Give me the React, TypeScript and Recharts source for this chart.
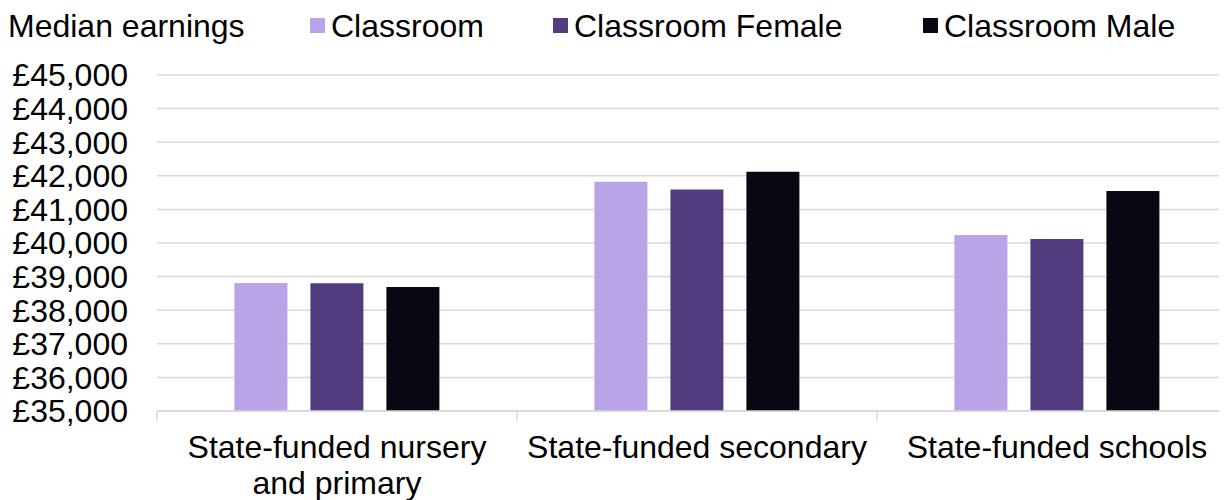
import React from 'react';
import { BarChart, Bar, XAxis, YAxis, CartesianGrid } from 'recharts';

const categories = ['State-funded nursery\nand primary', 'State-funded secondary', 'State-funded schools'];
const classroom = [38810, 41820, 40240];
const classroomFemale = [38800, 41590, 40120];
const classroomMale = [38690, 42120, 41550];
const yTicks = [35000, 36000, 37000, 38000, 39000, 40000, 41000, 42000, 43000, 44000, 45000];
const seriesNames = ['Classroom', 'Classroom Female', 'Classroom Male'];
const seriesColors = ['#BAA4E8', '#523D80', '#0A0712'];
const legendTitle = 'Median earnings';

const data = categories.map((c, i) => ({
  name: c,
  classroom: classroom[i],
  female: classroomFemale[i],
  male: classroomMale[i],
}));

const FONT = '"Liberation Sans", Arial, sans-serif';
const GRID = '#d9d9d9';

const fmt = (v: number) => '£' + v.toLocaleString('en-GB');

const XTick = (props: any) => {
  const { x, y, payload } = props;
  const half = payload.offset;
  const lines = String(payload.value).split('\n');
  return (
    <g>
      <line x1={x - half} x2={x - half} y1={y} y2={y + 10} stroke={GRID} strokeWidth={1.5} />
      <text x={x} y={y + 47} textAnchor="middle" fontSize={32} fontFamily={FONT} fill="#000">
        {lines.map((l, i) => (
          <tspan key={i} x={x} dy={i === 0 ? 0 : 36}>
            {l}
          </tspan>
        ))}
      </text>
    </g>
  );
};

const legendItemStyle: React.CSSProperties = {
  position: 'absolute',
  top: 2,
  fontSize: 32,
  lineHeight: '32px',
  fontFamily: FONT,
  color: '#000',
  whiteSpace: 'nowrap',
};

const squareLefts = [302, 545, 915];

export default function App() {
  return (
    <div style={{ position: 'relative', width: 1219, height: 492, overflow: 'hidden' }}>
      <div style={{ ...legendItemStyle, left: 0 }}>{legendTitle}</div>
      {seriesNames.map((n, i) => (
        <React.Fragment key={n}>
          <div
            style={{
              position: 'absolute',
              left: squareLefts[i],
              top: 10,
              width: 15,
              height: 15,
              background: seriesColors[i],
            }}
          />
          <div style={{ ...legendItemStyle, left: squareLefts[i] + 21 }}>{n}</div>
        </React.Fragment>
      ))}
      <BarChart
        width={1229}
        height={492}
        data={data}
        margin={{ top: 67, right: 0, bottom: 0, left: 0 }}
        barCategoryGap="21.5%"
        barGap={23}
      >
        <CartesianGrid vertical={false} stroke={GRID} strokeWidth={1.5} />
        <XAxis
          dataKey="name"
          height={89}
          interval={0}
          tickLine={false}
          tickSize={0}
          tickMargin={0}
          axisLine={{ stroke: GRID, strokeWidth: 1.5 }}
          tick={<XTick />}
        />
        <YAxis
          width={149}
          domain={[35000, 45000]}
          ticks={yTicks}
          interval={0}
          axisLine={false}
          tickLine={false}
          tickSize={0}
          tickMargin={29}
          tickFormatter={fmt}
          tick={{ fontSize: 32, fontFamily: FONT, fill: '#000' }}
        />
        <Bar dataKey="classroom" name={seriesNames[0]} fill={seriesColors[0]} isAnimationActive={false} />
        <Bar dataKey="female" name={seriesNames[1]} fill={seriesColors[1]} isAnimationActive={false} />
        <Bar dataKey="male" name={seriesNames[2]} fill={seriesColors[2]} isAnimationActive={false} />
      </BarChart>
    </div>
  );
}
